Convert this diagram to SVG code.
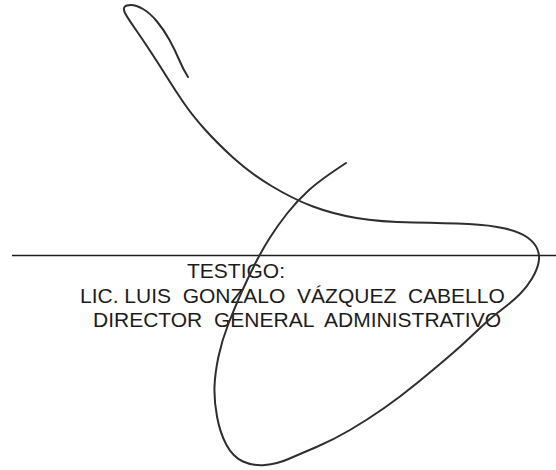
<svg xmlns="http://www.w3.org/2000/svg" width="556" height="470" viewBox="0 0 556 470">
<style>
.txt{font-family:"Liberation Sans",Arial,sans-serif;font-size:21px;fill:#1c1c1c;white-space:pre}
.ink{fill:none;stroke:#2e2e2e;stroke-width:2;stroke-linecap:round;stroke-linejoin:round}
</style>
<rect width="556" height="470" fill="#ffffff"/>
<g id="signature-line">
<line x1="12" y1="255.5" x2="556" y2="255.5" stroke="#1e1e1e" stroke-width="1.6"/>
</g>
<g id="caption">
<text class="txt" x="187" y="277.5" xml:space="preserve">TESTIGO:</text>
<text class="txt" x="80" y="303" xml:space="preserve">LIC. LUIS  GONZALO  VÁZQUEZ  CABELLO</text>
<text class="txt" x="93" y="326.5" xml:space="preserve">DIRECTOR  GENERAL  ADMINISTRATIVO</text>
</g>
<g id="signature">
<path class="ink" d="M188,77 Q183,69 179,59.5 Q175,50 169.5,40 Q164,30 157,21.5 Q150,13 143,9 Q136,5 131,5 Q126,5 124.5,7 Q123,9 125,13 Q127,17 135,28.5 Q143,40 151.5,53 Q160,66 167.5,78 Q175,90 183.5,102.5 Q192,115 204.5,129 Q217,143 233.5,158 Q250,173 271.5,186 Q293,199 313,206.5 Q333,214 356.5,218 Q380,222 413.5,222.5 Q447,223 468.5,224 Q490,225 505,228.5 Q520,232 527.5,237.5 Q535,243 537.5,249.5 Q540,256 538.5,263 Q537,270 532,278.5 Q527,287 520,294 Q513,301 502.5,309 Q492,317 486,322.5 Q480,328 470,337.5 Q460,347 446.5,358.5 Q433,370 416.5,383.5 Q400,397 383.5,408.5 Q367,420 350,430 Q333,440 316.5,447 Q300,454 288.5,459 Q277,464 265,465 Q253,466 243,461.5 Q233,457 226.5,445 Q220,433 217,416.5 Q214,400 214.5,386.5 Q215,373 218.5,356.5 Q222,340 228.5,323.5 Q235,307 241,293.5 Q247,280 254.5,265 Q262,250 270,237.5 Q278,225 287.5,213 Q297,201 308.5,190.5 Q320,180 346,163"/>
</g>
</svg>
